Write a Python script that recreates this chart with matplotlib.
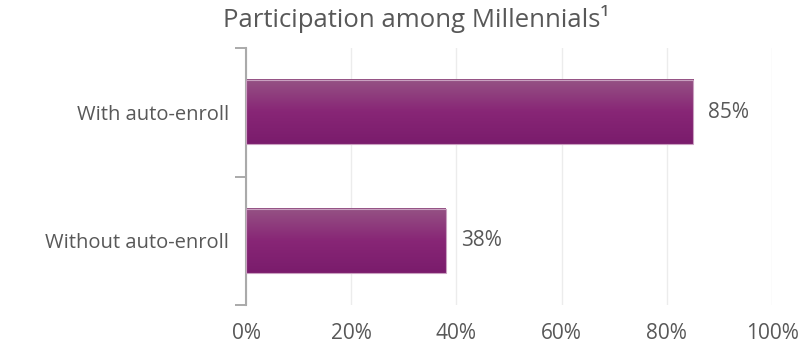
import numpy as np
import matplotlib.pyplot as plt
from matplotlib.colors import LinearSegmentedColormap

plt.rcParams['font.family'] = ['Open Sans', 'DejaVu Sans']

categories = ['With auto-enroll', 'Without auto-enroll']
values = [85, 38]
xticks = [0, 20, 40, 60, 80, 100]
title = 'Participation among Millennials\u00b9'

txt = '#585858'
grad = LinearSegmentedColormap.from_list('bar', ['#955284', '#882676', '#7a1c6c'])

fig = plt.figure(figsize=(8.05, 3.46), dpi=100)
ax = fig.add_axes([246/805, 1-305/346, (772-246)/805, (305-48)/346])

ypos = np.arange(len(categories))
h = 0.5
bars = ax.barh(ypos, values, height=h, color='none', edgecolor='#c9a0c0', linewidth=0.8, zorder=3)
g = np.linspace(0, 1, 100).reshape(-1, 1)
for b in bars:
    x0, y0 = b.get_x(), b.get_y()
    ax.imshow(g, cmap=grad, aspect='auto', zorder=2,
              extent=[x0, x0 + b.get_width(), y0 + b.get_height(), y0])

for y, v in zip(ypos, values):
    ax.text(v + 2.8, y, f'{v}%', va='center', ha='left', fontsize=15, color=txt)

ax.set_xlim(0, 100)
ax.set_ylim(len(categories) - 0.5, -0.5)
ax.set_xticks(xticks)
ax.set_xticklabels([f'{t}%' for t in xticks], fontsize=15, color=txt)
ax.set_yticks(ypos)
ax.set_yticklabels(categories, fontsize=14.5, color=txt)
ax.set_yticks(np.arange(-0.5, len(categories)), minor=True)
ax.tick_params(axis='y', which='major', length=0, pad=12)
ax.tick_params(axis='y', which='minor', length=8, width=1.4, color='#aaaaaa')
ax.tick_params(axis='x', length=0, pad=13)
ax.grid(axis='x', color='#ececec', linewidth=1, zorder=0)
ax.set_axisbelow(True)
for s in ['top', 'right', 'bottom']:
    ax.spines[s].set_visible(False)
ax.spines['left'].set_color('#aaaaaa')
ax.spines['left'].set_linewidth(1.5)

fig.text(0.517, 0.945, title, ha='center', va='center', fontsize=18.5, color=txt)

fig.savefig('out.png', dpi=100)
